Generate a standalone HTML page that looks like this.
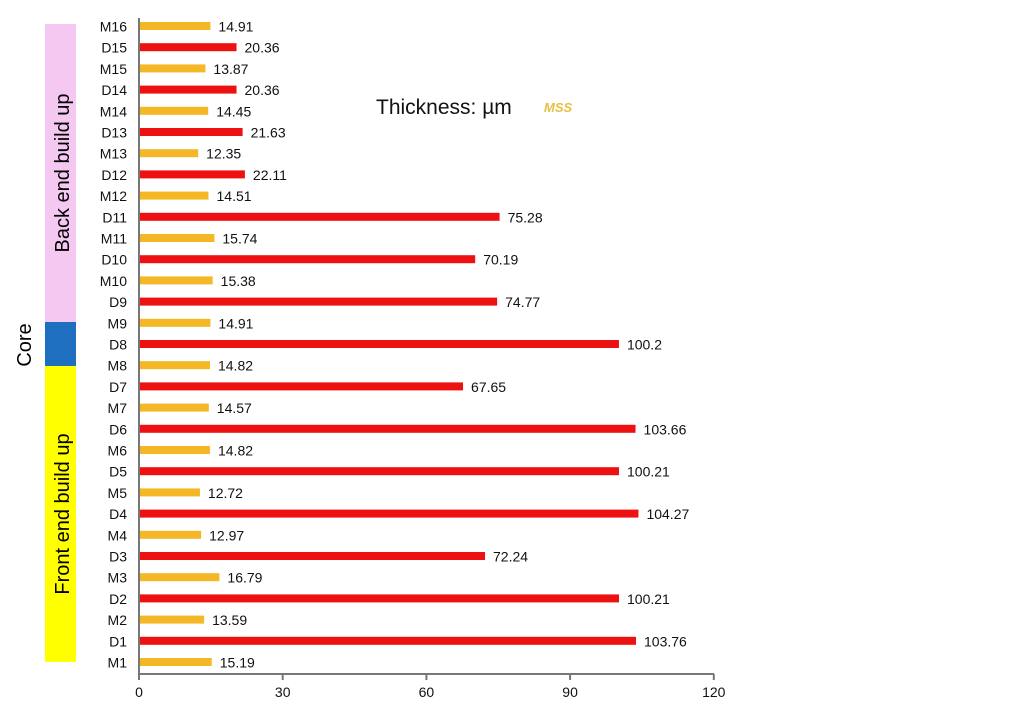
<!DOCTYPE html>
<html><head><meta charset="utf-8"><style>
body{margin:0;background:#fff;width:1024px;height:714px;overflow:hidden;font-family:"Liberation Sans",sans-serif}
</style></head><body>
<svg id="c" width="1024" height="714" style="position:absolute;left:0;top:0">
<rect x="45" y="24" width="31" height="298" fill="#f5c8f2"/>
<rect x="45" y="322" width="31" height="44" fill="#1f6fc0"/>
<rect x="45" y="366" width="31" height="296" fill="#ffff00"/>
<text transform="translate(69,173) rotate(-90)" text-anchor="middle" font-size="20" fill="#000">Back end build up</text>
<text transform="translate(31,345) rotate(-90)" text-anchor="middle" font-size="20" fill="#000">Core</text>
<text transform="translate(69,514) rotate(-90)" text-anchor="middle" font-size="20" fill="#000">Front end build up</text>
<text x="376" y="114" font-size="21" fill="#111">Thickness: µm</text>
<text x="544" y="112" font-size="13" font-style="italic" font-weight="bold" fill="#e8c040">MSS</text>
<g id="bars"></g>
<line x1="139" y1="18" x2="139" y2="674" stroke="#777" stroke-width="2"/>
<line x1="139" y1="674" x2="714" y2="674" stroke="#777" stroke-width="2"/>
<g id="ticks"></g>
</svg>
<script>
const categories=["M16","D15","M15","D14","M14","D13","M13","D12","M12","D11","M11","D10","M10","D9","M9","D8","M8","D7","M7","D6","M6","D5","M5","D4","M4","D3","M3","D2","M2","D1","M1"];
const values=[14.91,20.36,13.87,20.36,14.45,21.63,12.35,22.11,14.51,75.28,15.74,70.19,15.38,74.77,14.91,100.2,14.82,67.65,14.57,103.66,14.82,100.21,12.72,104.27,12.97,72.24,16.79,100.21,13.59,103.76,15.19];
const labels=["14.91","20.36","13.87","20.36","14.45","21.63","12.35","22.11","14.51","75.28","15.74","70.19","15.38","74.77","14.91","100.2","14.82","67.65","14.57","103.66","14.82","100.21","12.72","104.27","12.97","72.24","16.79","100.21","13.59","103.76","15.19"];
const ticks=[0,30,60,90,120];
const NS="http://www.w3.org/2000/svg";
const x=v=>139+v*4.79;
const y=i=>26+i*21.2;
const g=document.getElementById('bars'),tg=document.getElementById('ticks');
function mk(t,a,p){const e=document.createElementNS(NS,t);for(const k in a)e.setAttribute(k,a[k]);p.appendChild(e);return e;}
categories.forEach((c,i)=>{
  const red=c[0]==='D';
  const r=mk('rect',{x:140,y:y(i)-4,width:x(values[i])-140,height:8,fill:red?'#ee1111':'#f4b827'},g);
  
  
  const t=mk('text',{x:x(values[i])+8,y:y(i)+5.5,'font-size':14,fill:'#111'},g);t.textContent=labels[i];
  
  
  const l=mk('text',{x:127,y:y(i)+5.5,'font-size':14,fill:'#111','text-anchor':'end'},g);l.textContent=c;
  
  
});
ticks.forEach(v=>{
  mk('line',{x1:x(v),y1:674,x2:x(v),y2:680,stroke:'#777','stroke-width':2},tg);
  const t=mk('text',{x:x(v),y:697,'font-size':14,fill:'#111','text-anchor':'middle'},tg);t.textContent=v;
  
  
});
</script>
</body></html>
